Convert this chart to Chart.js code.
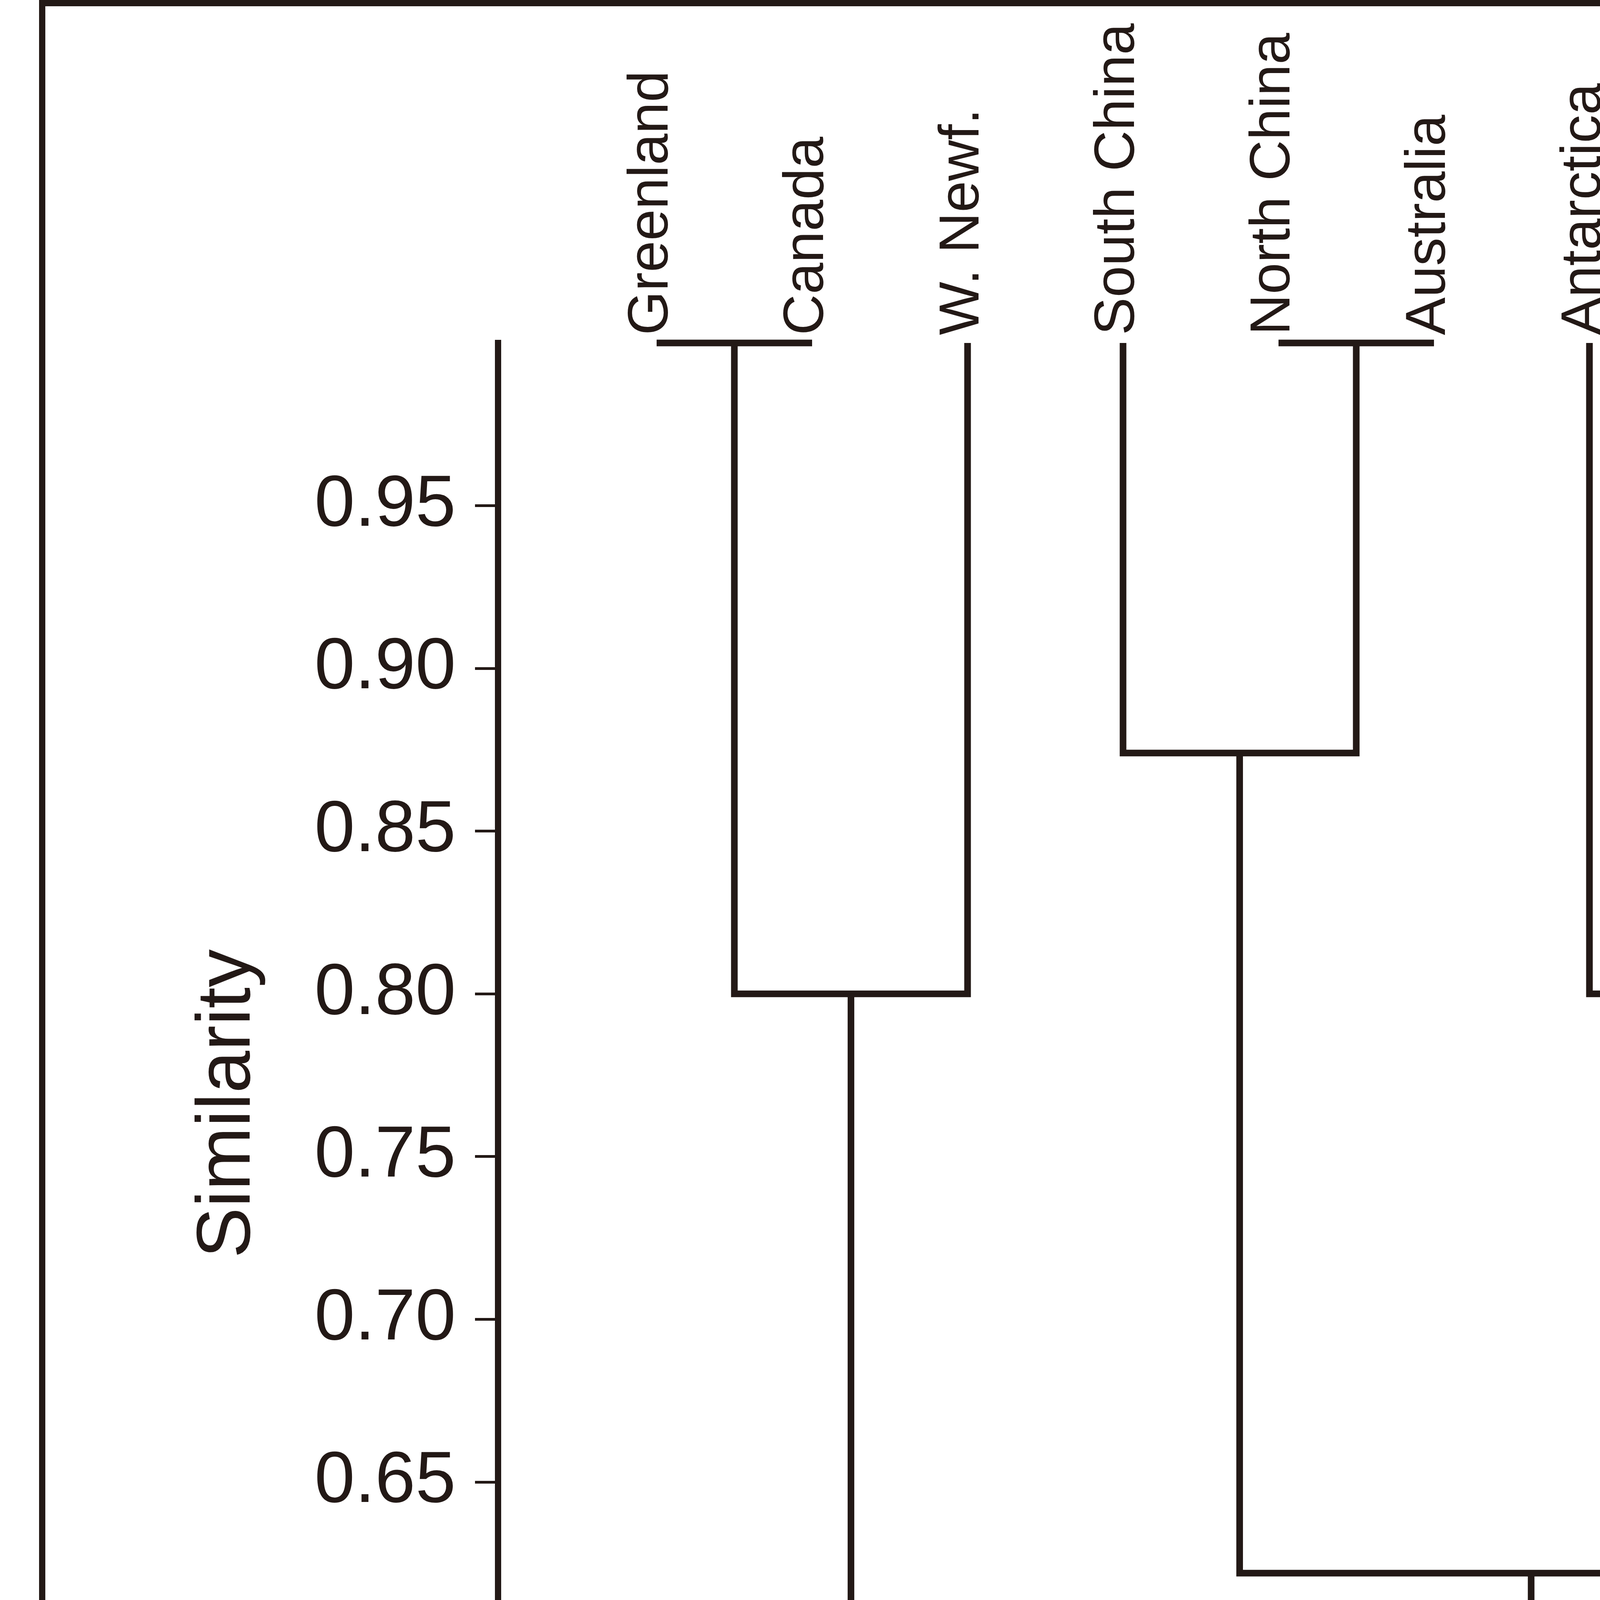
<!DOCTYPE html>
<html>
<head>
<meta charset="utf-8">
<script src="https://cdn.jsdelivr.net/npm/chart.js@4.4.1/dist/chart.umd.min.js"></script>
<style>
  html, body { margin: 0; padding: 0; background: #fff; }
  canvas { display: block; }
</style>
</head>
<body>
<canvas id="dendro" width="5952" height="4961"></canvas>
<script>
// leaves, left to right
const leaves = ['Greenland', 'Canada', 'W. Newf.', 'South China', 'North China',
                'Australia', 'Antarctica', 'Kazakhstan', 'Siberia', 'Baltica'];

// merges: node ids 0-9 are leaves, 10+ are earlier merges (in this order)
const mergeLeft   = [0, 10, 4, 3,     6,    8, 14,    13,    11];
const mergeRight  = [1, 2,  5, 12,    7,    9, 15,    16,    17];
const mergeHeight = [1.0, 0.80, 1.0, 0.874, 0.80, 1.0, 0.734, 0.622, 0.577];

const yTicks = [0.55, 0.60, 0.65, 0.70, 0.75, 0.80, 0.85, 0.90, 0.95];

const INK = '#231916';
const FONT = '"Liberation Sans", Arial, sans-serif';

// node positions: leaves at their index, merges at the middle of their children
const nodeX = leaves.map((_, i) => i);
const nodeH = leaves.map(() => 1.0);
const datasets = [];
mergeHeight.forEach((h, k) => {
    const a = mergeLeft[k], b = mergeRight[k];
    const pts = [
        { x: nodeX[a], y: nodeH[a] },
        { x: nodeX[a], y: h },
        { x: nodeX[b], y: h },
        { x: nodeX[b], y: nodeH[b] }
    ].filter((p, i, arr) => i === 0 || p.x !== arr[i - 1].x || p.y !== arr[i - 1].y);
    nodeX.push((nodeX[a] + nodeX[b]) / 2);
    nodeH.push(h);
    datasets.push({
        data: pts,
        showLine: true,
        borderColor: INK,
        borderWidth: 17,
        borderCapStyle: 'butt',
        borderJoinStyle: 'miter',
        pointRadius: 0,
        tension: 0,
        clip: false
    });
});

// outer frame
const framePlugin = {
    id: 'frame',
    beforeDraw(chart) {
        const ctx = chart.ctx;
        ctx.save();
        ctx.fillStyle = '#fff';
        ctx.fillRect(0, 0, chart.width, chart.height);
        ctx.strokeStyle = INK;
        ctx.lineWidth = 16;
        ctx.strokeRect(108, 8, 5750, 4945);
        ctx.restore();
    }
};

// rotated leaf names above the tops of the branches
const leafLabels = {
    id: 'leafLabels',
    afterDatasetsDraw(chart) {
        const { ctx, scales: { x, y } } = chart;
        ctx.save();
        ctx.font = '145px ' + FONT;
        ctx.fillStyle = INK;
        ctx.textAlign = 'left';
        ctx.textBaseline = 'alphabetic';
        leaves.forEach((name, i) => {
            ctx.save();
            ctx.translate(x.getPixelForValue(i) + 28, y.getPixelForValue(1.0) - 20);
            ctx.rotate(-Math.PI / 2);
            ctx.fillText(name, 0, 0);
            ctx.restore();
        });
        ctx.restore();
    }
};

new Chart(document.getElementById('dendro'), {
    type: 'scatter',
    data: { datasets },
    options: {
        responsive: false,
        animation: false,
        devicePixelRatio: 1,
        layout: { padding: { left: 120, top: 878, right: 291, bottom: 188 } },
        plugins: { legend: { display: false }, tooltip: { enabled: false } },
        scales: {
            x: { type: 'linear', display: false, min: -1.02, max: 10 },
            y: {
                type: 'linear',
                position: 'left',
                min: 0.5325,
                max: 1.0,
                afterBuildTicks: s => { s.ticks = yTicks.map(v => ({ value: v })); },
                afterFit: s => { s.width = 1155; },
                ticks: {
                    callback: v => Number(v).toFixed(2),
                    font: { family: FONT, size: 186 },
                    color: INK,
                    padding: 49
                },
                grid: { drawOnChartArea: false, drawTicks: true, tickLength: 59, lineWidth: 7, color: INK },
                border: { display: true, width: 16, color: INK },
                title: {
                    display: true,
                    text: 'Similarity',
                    font: { family: FONT, size: 195 },
                    color: INK,
                    padding: { top: 348, bottom: 0 }
                }
            }
        }
    },
    plugins: [framePlugin, leafLabels]
});
</script>
</body>
</html>
